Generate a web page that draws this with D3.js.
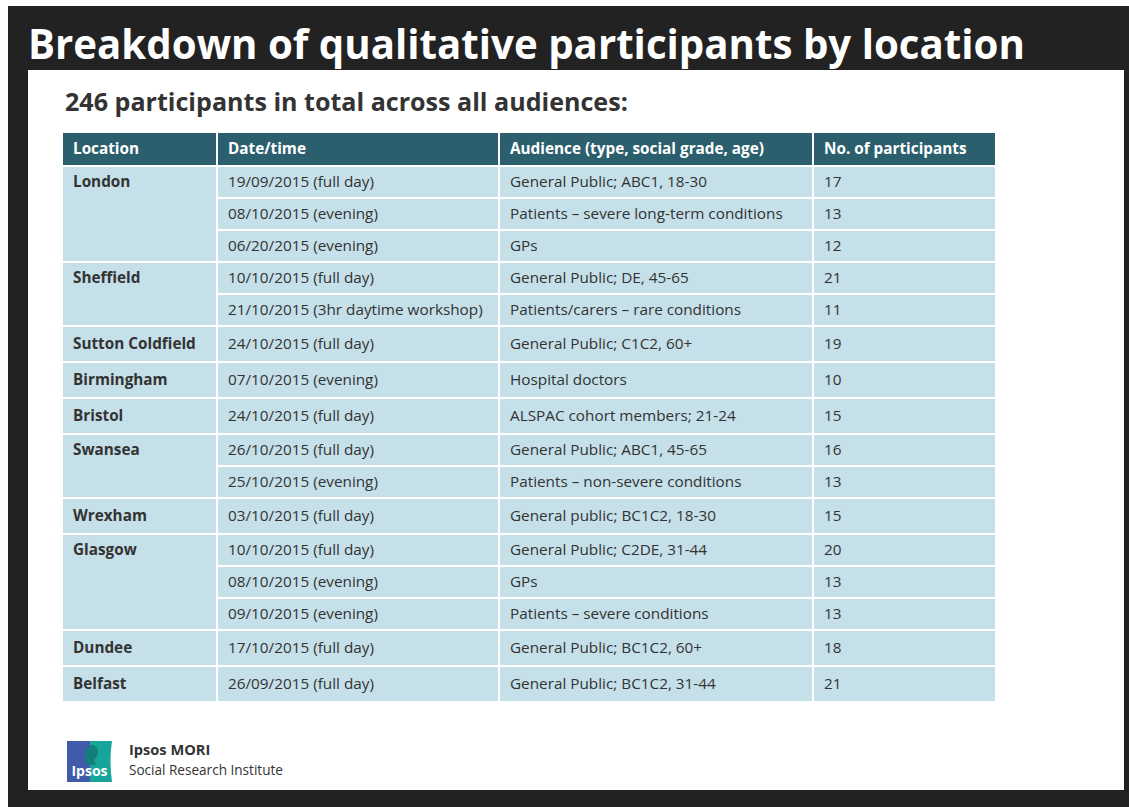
<!DOCTYPE html>
<html>
<head>
<meta charset="utf-8">
<script src="https://cdn.jsdelivr.net/npm/d3@7"></script>
<style>
  html, body { margin: 0; padding: 0; background: #fff; }
  svg { display: block; font-family: "Open Sans", "Noto Sans", sans-serif; }
</style>
</head>
<body>
<script>
var title = "Breakdown of qualitative participants by location";
var subtitle = "246 participants in total across all audiences:";
var columns = ["Location", "Date/time", "Audience (type, social grade, age)", "No. of participants"];

var rowLocation = ["London", "London", "London", "Sheffield", "Sheffield", "Sutton Coldfield",
  "Birmingham", "Bristol", "Swansea", "Swansea", "Wrexham", "Glasgow", "Glasgow", "Glasgow",
  "Dundee", "Belfast"];
var dates = ["19/09/2015 (full day)", "08/10/2015 (evening)", "06/20/2015 (evening)",
  "10/10/2015 (full day)", "21/10/2015 (3hr daytime workshop)", "24/10/2015 (full day)",
  "07/10/2015 (evening)", "24/10/2015 (full day)", "26/10/2015 (full day)", "25/10/2015 (evening)",
  "03/10/2015 (full day)", "10/10/2015 (full day)", "08/10/2015 (evening)", "09/10/2015 (evening)",
  "17/10/2015 (full day)", "26/09/2015 (full day)"];
var audiences = ["General Public; ABC1, 18-30", "Patients \u2013 severe long-term conditions", "GPs",
  "General Public; DE, 45-65", "Patients/carers \u2013 rare conditions", "General Public; C1C2, 60+",
  "Hospital doctors", "ALSPAC cohort members; 21-24", "General Public; ABC1, 45-65",
  "Patients \u2013 non-severe conditions", "General public; BC1C2, 18-30", "General Public; C2DE, 31-44",
  "GPs", "Patients \u2013 severe conditions", "General Public; BC1C2, 60+", "General Public; BC1C2, 31-44"];
var participants = [17, 13, 12, 21, 11, 19, 10, 15, 16, 13, 15, 20, 13, 13, 18, 21];

var W = 1129, H = 807;
var textColor = "#333333";
var headFill = "#2b5f6e";
var cellFill = "#c5e0e9";
var fs = 15.3;

var svg = d3.select("body").append("svg").attr("width", W).attr("height", H);

// frame + white panel
svg.append("rect").attr("x", 8).attr("y", 6).attr("width", W - 8).attr("height", H - 6).attr("fill", "#222222");
svg.append("rect").attr("x", 28).attr("y", 70).attr("width", 1096).attr("height", 720).attr("fill", "#ffffff");

// text fitted to a given width
function fitText(sel, width) {
  var w = sel.node().getComputedTextLength();
  var f = parseFloat(sel.attr("font-size"));
  sel.attr("font-size", (f * width / w).toFixed(2));
}

var t = svg.append("text").attr("x", 28).attr("y", 59).attr("fill", "#fff")
  .attr("font-weight", 700).attr("font-size", 40).text(title);
fitText(t, 997);

var st = svg.append("text").attr("x", 65).attr("y", 111).attr("fill", textColor)
  .attr("font-weight", 700).attr("font-size", 24).text(subtitle);
fitText(st, 563);

// table layout: each column starts after a 2px white divider
var colEdges = [61, 216, 498, 812, 995];
var gap = 2;
var headerTop = 133, headerH = 32;

// rows of single-row locations are taller than rows in multi-row groups
var groupSize = d3.rollup(rowLocation, function(v) { return v.length; }, function(d) { return d; });
var rowUnits = rowLocation.map(function(l) { return groupSize.get(l) > 1 ? 32 : 36; });
var rowStart = [0].concat(Array.from(d3.cumsum(rowUnits)));
var y = d3.scaleLinear().domain([0, 1]).range([headerTop + headerH, headerTop + headerH + 1]);

var rows = rowLocation.map(function(loc, i) {
  return { loc: loc, date: dates[i], aud: audiences[i], n: participants[i],
    top: y(rowStart[i]), h: rowUnits[i], first: i === 0 || rowLocation[i - 1] !== loc };
});

var x = d3.scaleOrdinal().domain(columns).range(colEdges.slice(0, 4).map(function(e) { return e + gap; }));
function colW(i) { return colEdges[i + 1] - colEdges[i] - gap; }

// header
var head = svg.append("g");
columns.forEach(function(c, i) {
  head.append("rect").attr("x", x(c)).attr("y", headerTop).attr("width", colW(i)).attr("height", headerH)
    .attr("fill", headFill);
  head.append("text").attr("x", x(c) + 10).attr("y", headerTop + headerH / 2 + 4.5)
    .attr("fill", "#fff").attr("font-weight", 700).attr("font-size", fs).text(c);
});

// location cells (merged)
var groups = [];
rows.forEach(function(r) {
  if (r.first) groups.push({ loc: r.loc, top: r.top, h: r.h, firstH: r.h });
  else groups[groups.length - 1].h += r.h;
});

var body = svg.append("g");
body.selectAll("rect.loc").data(groups).enter().append("rect")
  .attr("x", x(columns[0])).attr("y", function(d) { return d.top + gap; })
  .attr("width", colW(0)).attr("height", function(d) { return d.h - gap; })
  .attr("fill", cellFill);
body.selectAll("text.loc").data(groups).enter().append("text")
  .attr("x", x(columns[0]) + 10).attr("y", function(d) { return d.top + d.firstH / 2 + 6; })
  .attr("fill", textColor).attr("font-weight", 700).attr("font-size", fs)
  .text(function(d) { return d.loc; });

var keys = ["date", "aud", "n"];
keys.forEach(function(k, j) {
  var ci = j + 1;
  body.selectAll("rect.c" + ci).data(rows).enter().append("rect")
    .attr("x", x(columns[ci])).attr("y", function(d) { return d.top + gap; })
    .attr("width", colW(ci)).attr("height", function(d) { return d.h - gap; })
    .attr("fill", cellFill);
  body.selectAll("text.c" + ci).data(rows).enter().append("text")
    .attr("x", x(columns[ci]) + 10).attr("y", function(d) { return d.top + d.h / 2 + 6; })
    .attr("fill", textColor).attr("font-size", fs)
    .text(function(d) { return d[k]; });
});

// Ipsos logo
var logo = svg.append("g");
logo.append("rect").attr("x", 67).attr("y", 741).attr("width", 24).attr("height", 41).attr("fill", "#3f5ba9");
logo.append("path").attr("d", "M90,741 L112,741 Q109,760 112,782 L90,782 Z").attr("fill", "#17a59b");
logo.append("path")
  .attr("d", "M87,765 Q85,759 85,754 Q86,746 92,745 Q98,745 98,752 Q98,756 96,758 Q93,760 95,762 L96,765 Z")
  .attr("fill", "#127f78");
logo.append("text").attr("x", 89.5).attr("y", 776).attr("text-anchor", "middle").attr("fill", "#fff")
  .attr("font-weight", 700).attr("font-size", 14).text("Ipsos");

svg.append("text").attr("x", 129).attr("y", 755).attr("fill", textColor).attr("font-weight", 700)
  .attr("font-size", 14.6).text("Ipsos MORI");
var sri = svg.append("text").attr("x", 129).attr("y", 775).attr("fill", textColor)
  .attr("font-size", 14).text("Social Research Institute");
fitText(sri, 154);
</script>
</body>
</html>
